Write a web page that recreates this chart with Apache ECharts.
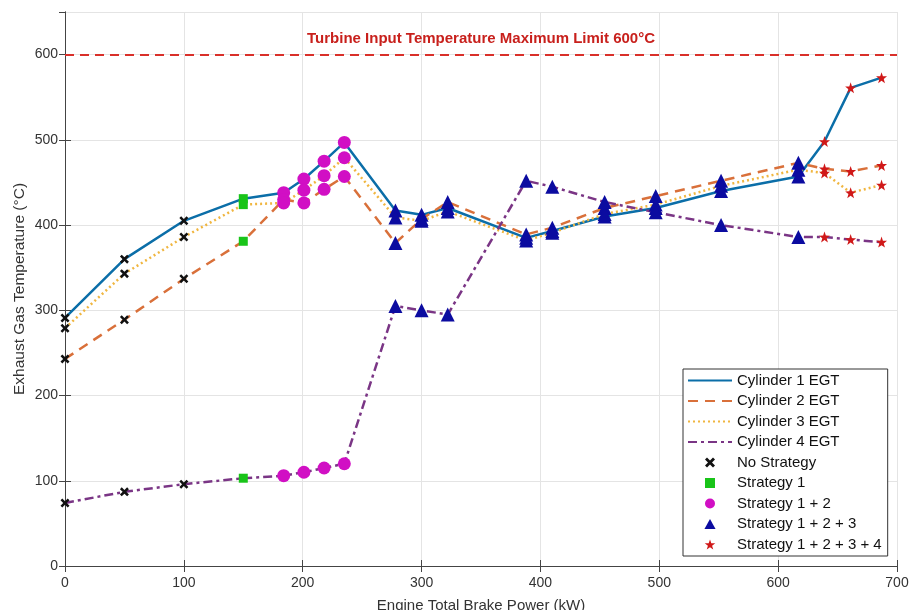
<!DOCTYPE html>
<html>
<head>
<meta charset="utf-8">
<script src="https://cdn.jsdelivr.net/npm/echarts@6/dist/echarts.min.js"></script>
<style>
    html, body { margin: 0; padding: 0; background: #fff; }
    #chart { width: 912px; height: 610px; }
</style>
</head>
<body>
<div id="chart"></div>
<script>
// engine total brake power (kW), shared by all cylinders
var power = [0, 50, 100, 150, 184, 201, 218, 235, 278, 300, 322, 388, 410, 454, 497, 552, 617, 639, 661, 687];

// exhaust gas temperature per cylinder (°C)
var cyl1 = [291, 360, 405, 431, 438, 454, 475, 497, 417, 412, 420, 385, 393, 410, 420, 440, 457, 498, 561, 573];
var cyl2 = [243, 289, 337, 381, 430, 426, 442, 457, 379, 407, 427, 389, 397, 420, 434, 452, 473, 466, 463, 470];
var cyl3 = [279, 343, 386, 424, 426, 441, 458, 479, 409, 405, 416, 382, 391, 413, 424, 446, 465, 461, 438, 447];
var cyl4 = [74, 87, 96, 103, 106, 110, 115, 120, 305, 300, 295, 452, 445, 427, 415, 400, 386, 386, 383, 380];

var cylNames = ['Cylinder 1 EGT', 'Cylinder 2 EGT', 'Cylinder 3 EGT', 'Cylinder 4 EGT'];

// strategy applied at each operating point: [first index, last index + 1]
var strategyNames = ['No Strategy', 'Strategy 1', 'Strategy 1 + 2', 'Strategy 1 + 2 + 3', 'Strategy 1 + 2 + 3 + 4'];
var strategyRanges = [[0, 3], [3, 4], [4, 8], [8, 17], [17, 20]];

var limitValue = 600;

var chart = echarts.init(document.getElementById('chart'));

var cylinders = [cyl1, cyl2, cyl3, cyl4];
var lineStyles = [
    {color: '#0b6ea8', width: 2.5, type: 'solid'},
    {color: '#d9703a', width: 2.5, type: [10, 7]},
    {color: '#f0b640', width: 2.5, type: [2, 3]},
    {color: '#7a3585', width: 2.5, type: [9, 4, 3, 4]}
];

// marker shapes (paths keep their aspect ratio in the legend)
var xPath = 'path://M2,0 L5,3 L8,0 L10,2 L7,5 L10,8 L8,10 L5,7 L2,10 L0,8 L3,5 L0,2 Z';
var rectPath = 'path://M0,0 L10,0 L10,10 L0,10 Z';
var triPath = 'path://M5,0 L10,9 L0,9 Z';
var starPath = 'path://M10,0 L12.35,6.76 L19.51,6.91 L13.8,11.24 L15.88,18.09 L10,14 L4.12,18.09 L6.2,11.24 L0.49,6.91 L7.65,6.76 Z';
var markers = [
    {symbol: xPath, size: 9, color: '#111'},
    {symbol: rectPath, size: 9, color: '#19c419'},
    {symbol: 'circle', size: 13, color: '#d10fc4'},
    {symbol: triPath, size: 14, color: '#0b0ba0'},
    {symbol: starPath, size: 11, color: '#d01818'}
];

var series = [];
cylinders.forEach(function (values, c) {
    var s = {
        name: cylNames[c],
        type: 'line',
        symbol: 'none',
        lineStyle: lineStyles[c],
        itemStyle: {color: lineStyles[c].color},
        data: power.map(function (p, i) { return [p, values[i]]; }),
        z: 2
    };
    if (c === 0) {
        s.markLine = {
            silent: true,
            symbol: 'none',
            lineStyle: {color: '#d9302a', width: 2, type: [9, 6]},
            label: {
                position: 'insideMiddleTop',
                distance: 8,
                formatter: 'Turbine Input Temperature Maximum Limit 600°C',
                color: '#c8201c',
                fontWeight: 'bold',
                fontSize: 15,
                fontFamily: 'Liberation Sans'
            },
            data: [{yAxis: limitValue}]
        };
    }
    series.push(s);
});

strategyRanges.forEach(function (range, k) {
    var pts = [];
    cylinders.forEach(function (values) {
        for (var i = range[0]; i < range[1]; i++) {
            pts.push([power[i], values[i]]);
        }
    });
    series.push({
        name: strategyNames[k],
        type: 'scatter',
        symbol: markers[k].symbol,
        symbolSize: markers[k].size,
        itemStyle: {color: markers[k].color, opacity: 1},
        data: pts,
        z: 5
    });
});

// line entries: hide the symbol, keep the dashed line
var legendData = cylNames.map(function (n) {
    return {name: n, itemStyle: {opacity: 0}};
}).concat(strategyNames.map(function (n) {
    return {name: n};
}));

var axisText = {color: '#333', fontSize: 14, fontFamily: 'Liberation Sans'};

var option = {
    animation: false,
    backgroundColor: '#fff',
    grid: {left: 65, right: 15, top: 12, bottom: 44, outerBoundsMode: 'none'},
    legend: {
        orient: 'vertical',
        left: 683,
        top: 369,
        backgroundColor: '#fff',
        borderColor: '#333',
        borderWidth: 1,
        padding: [4, 6, 4, 4],
        itemWidth: 44,
        itemHeight: 10,
        itemGap: 5.5,
        textStyle: {color: '#111', fontSize: 15, fontFamily: 'Liberation Sans', padding: [1, 0, 0, 0]},
        data: legendData
    },
    xAxis: [{
        type: 'value',
        min: 0,
        max: 700,
        interval: 100,
        name: 'Engine Total Brake Power (kW)',
        nameLocation: 'middle',
        nameGap: 32,
        nameMoveOverlap: false,
        nameTextStyle: {color: '#333', fontSize: 15, fontFamily: 'Liberation Sans'},
        axisLine: {show: true, lineStyle: {color: '#444'}},
        axisTick: {show: true, inside: true, length: 6, lineStyle: {color: '#444'}},
        axisLabel: Object.assign({margin: 10}, axisText),
        splitLine: {show: true, lineStyle: {color: '#e4e4e4'}}
    }, {
        type: 'value',
        position: 'top',
        min: 0,
        max: 700,
        interval: 100,
        axisLine: {show: true, lineStyle: {color: '#444'}},
        axisTick: {show: true, inside: true, length: 6, lineStyle: {color: '#444'}},
        axisLabel: {show: false},
        splitLine: {show: false}
    }],
    yAxis: [{
        type: 'value',
        min: 0,
        max: 650,
        interval: 100,
        name: 'Exhaust Gas Temperature (°C)',
        nameLocation: 'middle',
        nameGap: 37,
        nameMoveOverlap: false,
        nameTextStyle: {color: '#333', fontSize: 15.5, fontFamily: 'Liberation Sans'},
        axisLine: {show: true, lineStyle: {color: '#444'}},
        axisTick: {show: true, inside: true, length: 6, lineStyle: {color: '#444'}},
        axisLabel: Object.assign({margin: 7, showMaxLabel: false}, axisText),
        splitLine: {show: true, lineStyle: {color: '#e4e4e4'}}
    }, {
        type: 'value',
        position: 'right',
        min: 0,
        max: 650,
        interval: 100,
        axisLine: {show: true, lineStyle: {color: '#444'}},
        axisTick: {show: true, inside: true, length: 6, lineStyle: {color: '#444'}},
        axisLabel: {show: false},
        splitLine: {show: false}
    }],
    series: series
};

chart.setOption(option);
</script>
</body>
</html>
